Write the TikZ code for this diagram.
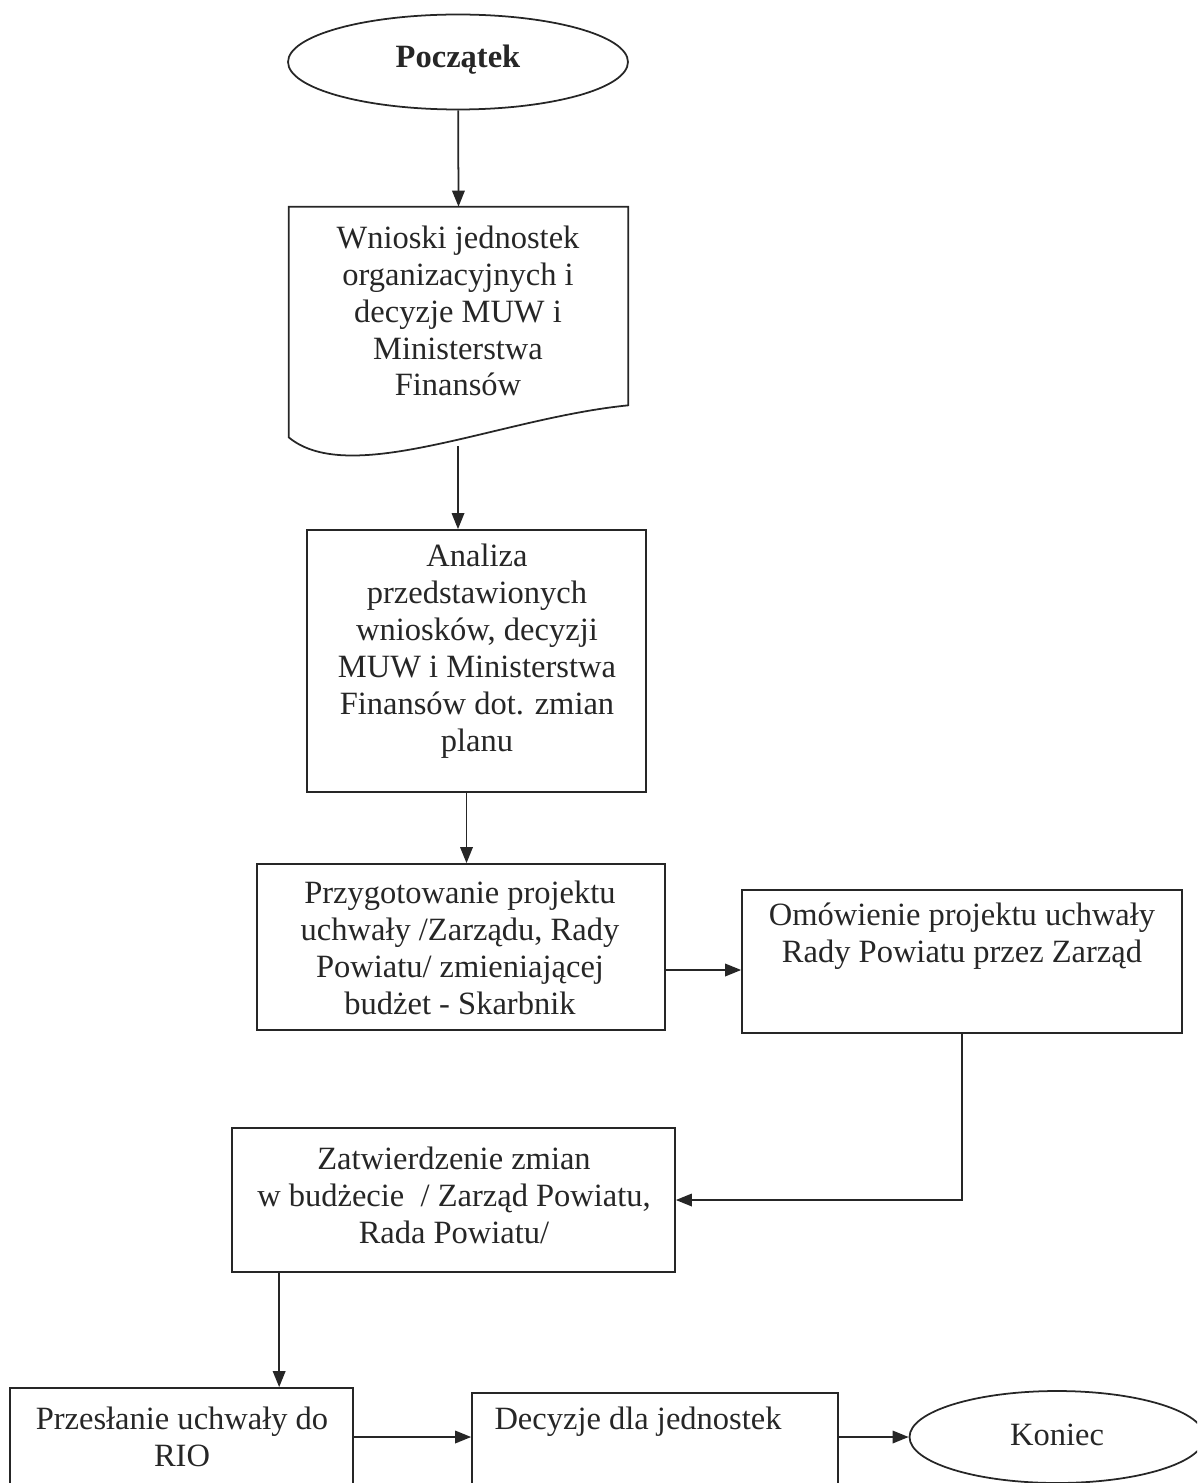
\documentclass[tikz,border=0pt]{standalone}
\usepackage{fontspec}
\setmainfont{Liberation Serif}
\usetikzlibrary{arrows.meta,shapes.geometric}

\tikzset{
  linia/.style={line width=1pt, draw=black!85},
  krok/.style={linia, rectangle, inner sep=0pt},
  owal/.style={linia, ellipse, inner sep=0pt},
  opis/.style={align=center, inner sep=0pt, text=black!85,
    font=\fontsize{18.5}{21}\selectfont},
  strz/.style={linia, -{Triangle[length=0.32cm,width=0.25cm]}},
}

\begin{document}
\begin{tikzpicture}[x=0.02cm,y=-0.02cm]
  \useasboundingbox (0,0) rectangle (1197,1483);
  \clip (0,0) rectangle (1197,1483);

  % ramki
  \node[owal, minimum width=6.8cm, minimum height=1.9cm] (start) at (458,62) {};
  \node[inner sep=0pt, minimum width=6.78cm, minimum height=3.96cm] (wnioski) at (458.5,306) {};
  \node[krok, minimum width=6.78cm, minimum height=5.24cm] (analiza) at (476.5,661) {};
  \node[krok, minimum width=8.16cm, minimum height=3.32cm] (przyg) at (461,947) {};
  \node[krok, minimum width=8.8cm, minimum height=2.86cm] (omow) at (962,961.5) {};
  \node[krok, minimum width=8.86cm, minimum height=2.88cm] (zatw) at (453.5,1200) {};
  \node[krok, minimum width=6.86cm, minimum height=2.64cm] (przes) at (181.5,1454) {};
  \node[krok, minimum width=7.32cm, minimum height=2.54cm] (decyz) at (655,1456.5) {};
  \node[owal, minimum width=5.9cm, minimum height=1.84cm] (koniec) at (1057,1437) {};

  % dokument
  \draw[linia] (wnioski.north west) -- (wnioski.north east) -- (wnioski.south east)
    .. controls (500,418) and (350,488) .. ([yshift=-0.64cm]wnioski.south west) -- cycle;
  \coordinate (fala) at (458,446);

  % teksty
  \node[opis, font=\fontsize{18.5}{21}\selectfont\bfseries] (t start) at (458,60) {Początek};
  \node[opis] (t wnioski) at (458,311) {Wnioski jednostek\\organizacyjnych i\\decyzje MUW i\\Ministerstwa\\Finansów};
  \node[opis] (t analiza) at (477,651) {Analiza\\przedstawionych\\wniosków, decyzji\\MUW i Ministerstwa\\Finansów dot. zmian\\planu};
  \node[opis] (t przyg) at (460,948) {Przygotowanie projektu\\uchwały /Zarządu, Rady\\Powiatu/ zmieniającej\\budżet - Skarbnik};
  \node[opis] (t omow) at (962,936) {Omówienie projektu uchwały\\Rady Powiatu przez Zarząd};
  \node[opis] (t zatw) at (454,1195) {Zatwierdzenie zmian\\w budżecie \ / Zarząd Powiatu,\\Rada Powiatu/};
  \node[opis] (t przes) at (182,1437) {Przesłanie uchwały do\\RIO};
  \node[opis] (t decyz) at (638,1422) {Decyzje dla jednostek};
  \node[opis] (t koniec) at (1057,1435) {Koniec};

  % strzalki
  \draw[strz] (start) -- (wnioski.north);
  \draw[strz] (fala) -- (fala |- analiza.north);
  \draw[strz] ([xshift=-0.2cm]analiza.south) -- ([xshift=-0.2cm]analiza.south |- przyg.north);
  \draw[strz] ([yshift=-0.17cm]omow.west -| przyg.east) -- ([yshift=-0.17cm]omow.west);
  \draw[strz] (omow.south) |- (zatw.east);
  \draw[strz] ([xshift=0.96cm]zatw.south west) -- ([xshift=0.96cm]zatw.south west |- przes.north);
  \draw[strz] (przes.east |- koniec) -- (decyz.west |- koniec);
  \draw[strz] (decyz.east |- koniec) -- (koniec);
\end{tikzpicture}
\end{document}
